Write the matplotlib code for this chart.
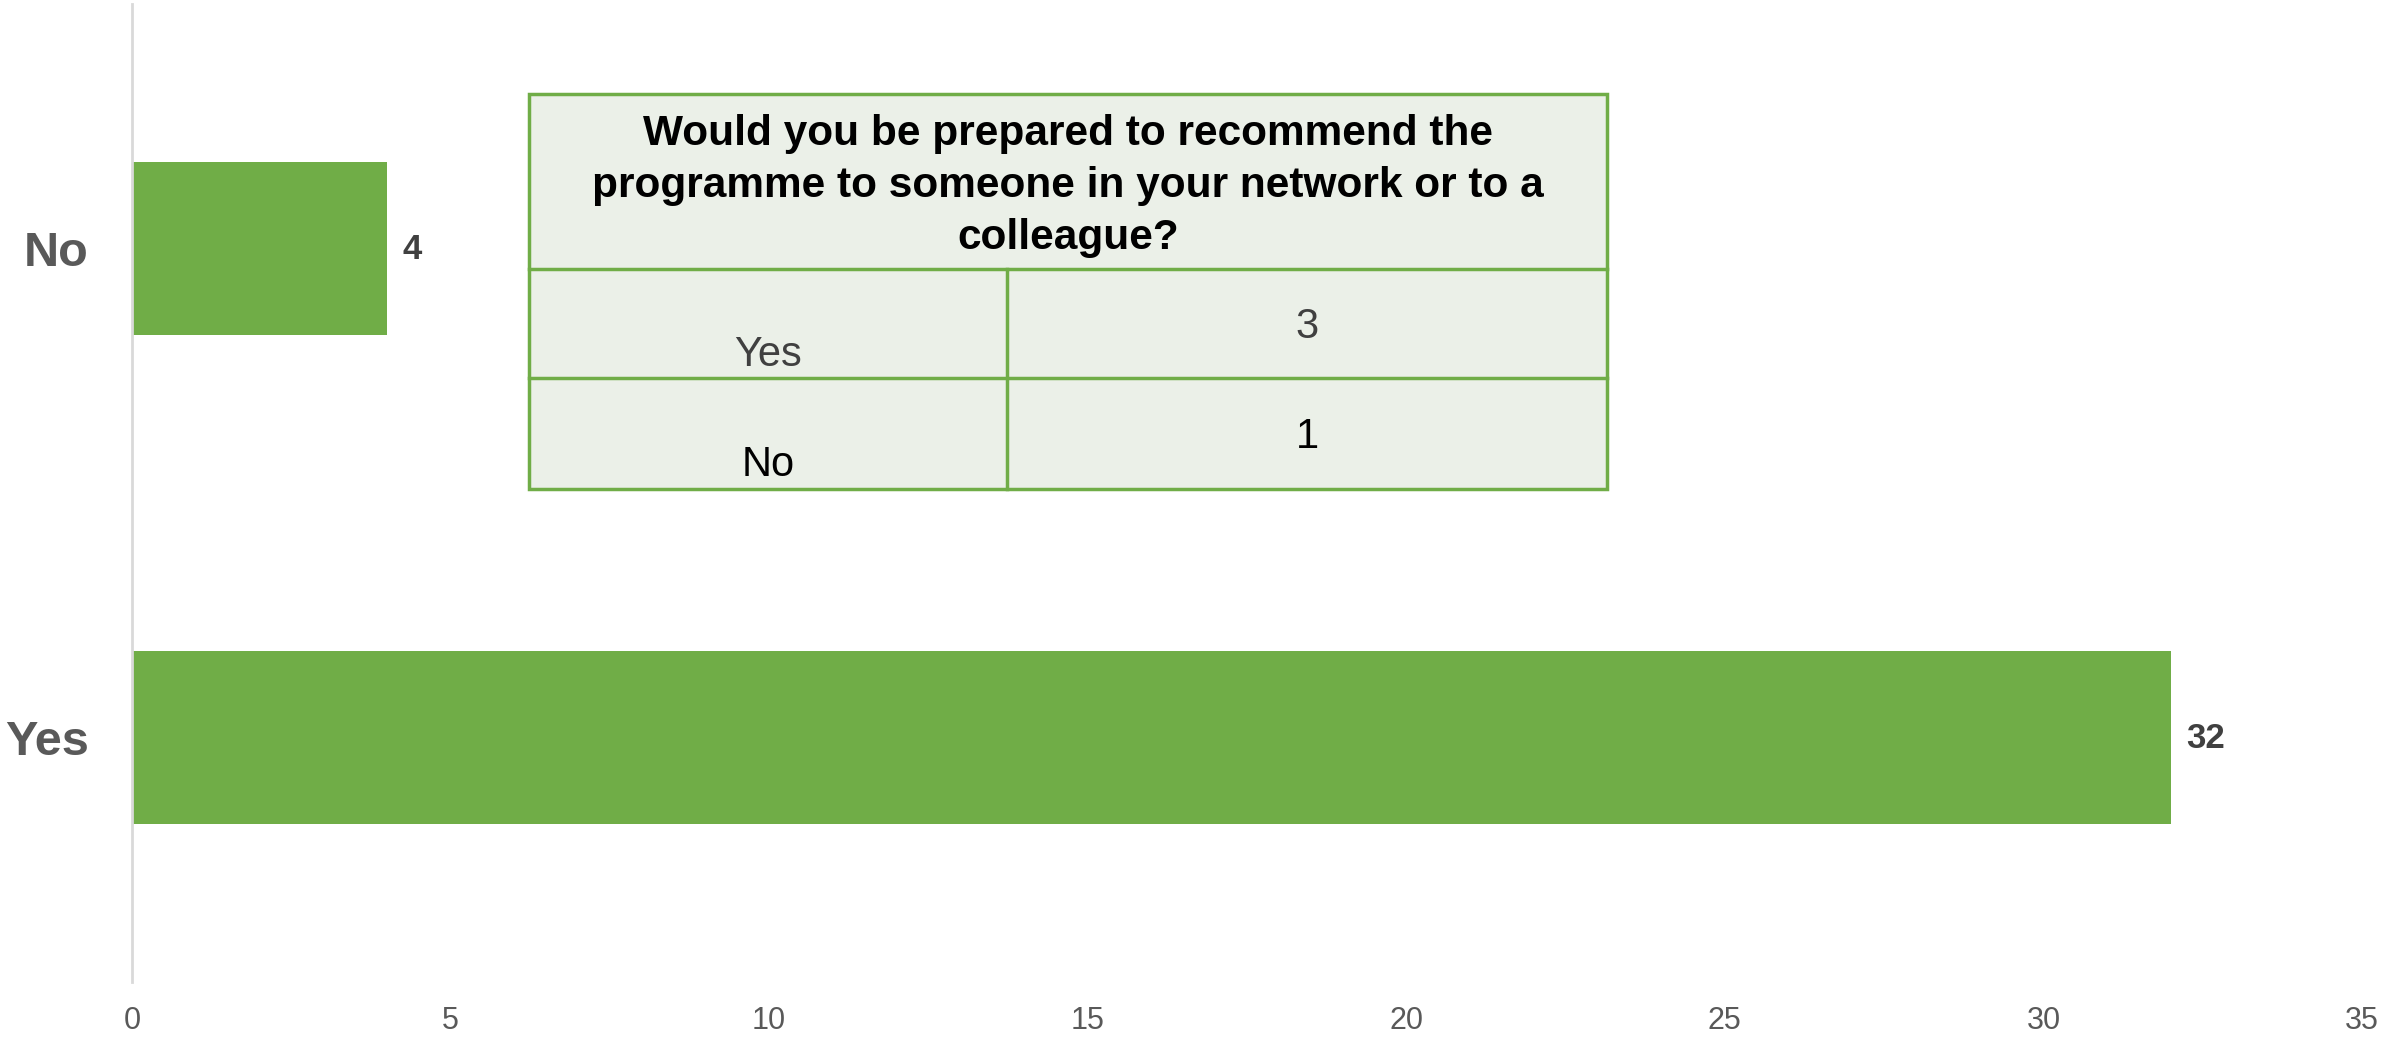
import matplotlib
matplotlib.use("Agg")
import matplotlib.pyplot as plt
from matplotlib.patches import Rectangle

plt.rcParams["font.family"] = ["Liberation Sans", "DejaVu Sans"]

# Survey answers and counts
categories = ["Yes", "No"]
counts = [32, 4]

# Inset table: follow-up question and its tally
table_title = "Would you be prepared to recommend the\nprogramme to someone in your network or to a\ncolleague?"
table_labels = ["Yes", "No"]
table_values = [3, 1]

xticks = [0, 5, 10, 15, 20, 25, 30, 35]

W, H = 2382, 1038
BAR_GREEN = "#70AD47"
TABLE_FILL = "#EBF0E8"

fig = plt.figure(figsize=(W / 100, H / 100), dpi=100)
ax = fig.add_axes([132 / W, 1 - 982 / H, (2362 - 132) / W, (982 - 4) / H])

ypos = list(range(len(categories)))
bars = ax.barh(ypos, counts, height=0.354, color=BAR_GREEN, zorder=2)

ax.set_xlim(0, 35)
ax.set_ylim(-0.5, 1.5)
ax.set_xticks(xticks)
ax.set_xticklabels([str(t) for t in xticks], fontsize=22, color="#595959")
ax.set_yticks(ypos)
ax.set_yticklabels(categories, fontsize=35, fontweight="bold", color="#595959")
ax.tick_params(axis="x", length=0, pad=17)
ax.tick_params(axis="y", length=0, pad=31)

for side in ["top", "right", "bottom"]:
    ax.spines[side].set_visible(False)
ax.spines["left"].set_color("#D9D9D9")
ax.spines["left"].set_linewidth(2)

for y, v in zip(ypos, counts):
    ax.annotate(str(v), xy=(v, y), xytext=(11, -1), textcoords="offset points",
                ha="left", va="center", fontsize=25, fontweight="bold",
                color="#404040")


# Inset table drawn in figure pixel coordinates
def fx(x):
    return x / W


def fy(y):
    return 1 - y / H


left, right, mid = 529, 1607, 1007
top, head_bot, row1_bot, bot = 94, 269, 378, 489

fig.patches.append(Rectangle((fx(left), fy(bot)), fx(right) - fx(left),
                             fy(top) - fy(bot), transform=fig.transFigure,
                             facecolor=TABLE_FILL, edgecolor=BAR_GREEN,
                             linewidth=2.5, zorder=5))
line_kw = dict(transform=fig.transFigure, color=BAR_GREEN, linewidth=2.5, zorder=6)
fig.add_artist(plt.Line2D([fx(left), fx(right)], [fy(head_bot), fy(head_bot)], **line_kw))
fig.add_artist(plt.Line2D([fx(left), fx(right)], [fy(row1_bot), fy(row1_bot)], **line_kw))
fig.add_artist(plt.Line2D([fx(mid), fx(mid)], [fy(head_bot), fy(bot)], **line_kw))

fig.text(fx((left + right) / 2), fy(186), table_title, ha="center", va="center",
         fontsize=30.5, fontweight="bold", color="black", linespacing=1.38, zorder=7)

row_edges = [(head_bot, row1_bot), (row1_bot, bot)]
label_colors = ["#404040", "black"]
for (r0, r1), lab, val, col in zip(row_edges, table_labels, table_values, label_colors):
    cy = (r0 + r1) / 2
    fig.text(fx((left + mid) / 2), fy(cy + 31), lab, ha="center", va="center",
             fontsize=30, color=col, zorder=7)
    fig.text(fx((mid + right) / 2), fy(cy + 4), str(val), ha="center", va="center",
             fontsize=30, color=col, zorder=7)

fig.savefig("out.png", dpi=100, facecolor="white")
